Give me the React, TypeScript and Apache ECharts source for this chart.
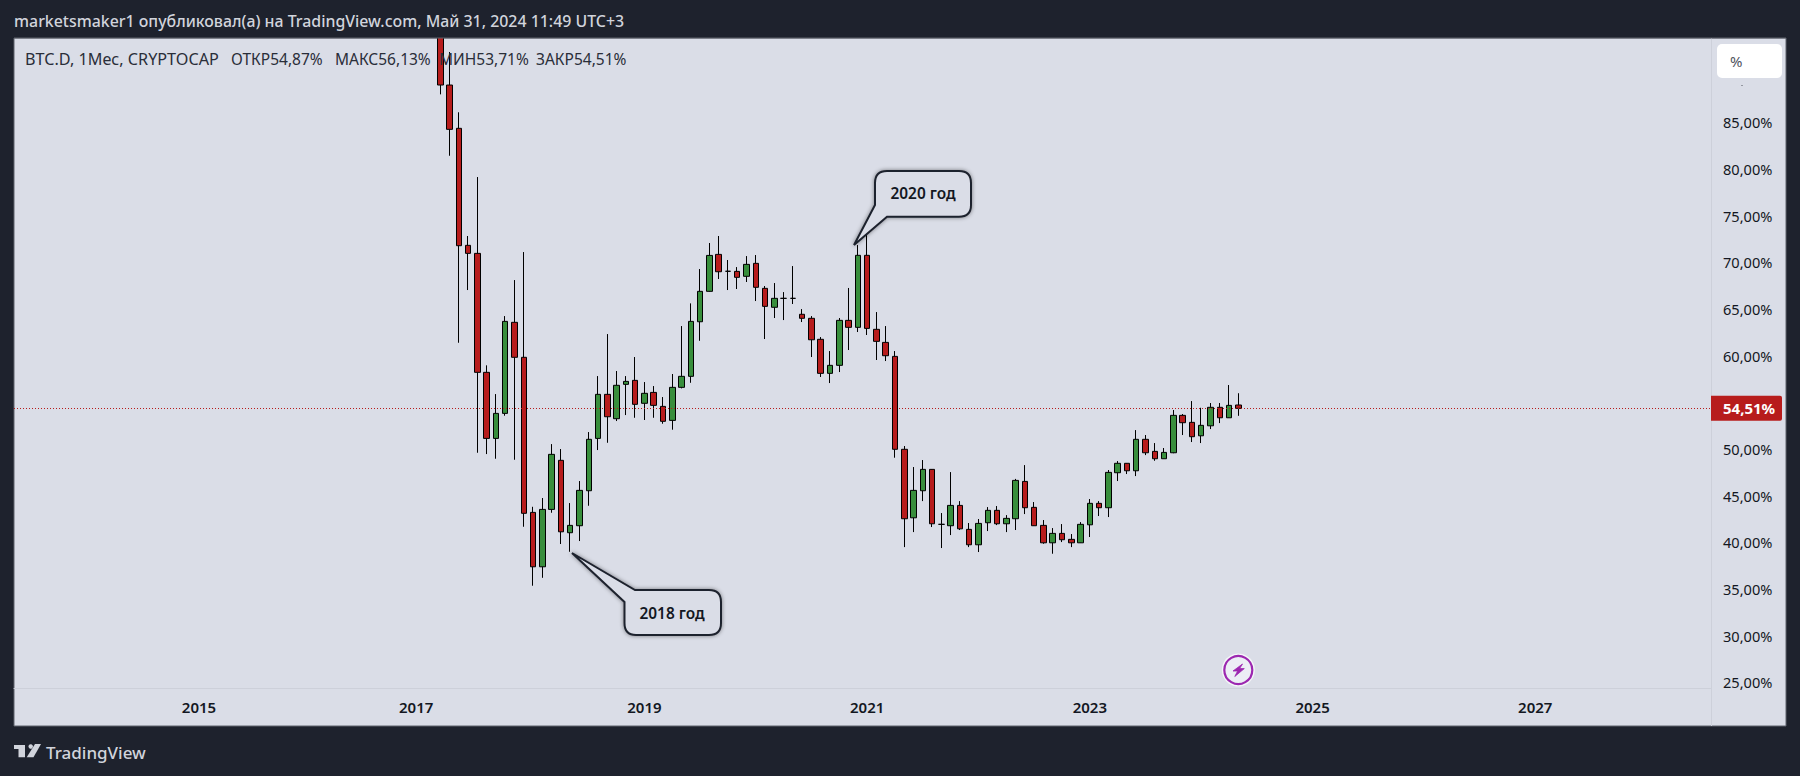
import React, { useEffect, useRef } from "react";
import * as echarts from "echarts";

const months = [
  "2017-03","2017-04","2017-05","2017-06","2017-07","2017-08","2017-09","2017-10","2017-11","2017-12",
  "2018-01","2018-02","2018-03","2018-04","2018-05","2018-06","2018-07","2018-08","2018-09","2018-10","2018-11","2018-12",
  "2019-01","2019-02","2019-03","2019-04","2019-05","2019-06","2019-07","2019-08","2019-09","2019-10","2019-11","2019-12",
  "2020-01","2020-02","2020-03","2020-04","2020-05","2020-06","2020-07","2020-08","2020-09","2020-10","2020-11","2020-12",
  "2021-01","2021-02","2021-03","2021-04","2021-05","2021-06","2021-07","2021-08","2021-09","2021-10","2021-11","2021-12",
  "2022-01","2022-02","2022-03","2022-04","2022-05","2022-06","2022-07","2022-08","2022-09","2022-10","2022-11","2022-12",
  "2023-01","2023-02","2023-03","2023-04","2023-05","2023-06","2023-07","2023-08","2023-09","2023-10","2023-11","2023-12",
  "2024-01","2024-02","2024-03","2024-04","2024-05",
];
const opens = [
  96,89.16,84.52,71.98,71.12,58.37,51.29,53.97,63.73,59.98,
  43.36,37.53,43.68,48.94,41.18,41.93,45.68,51.29,56.01,53.4,57.08,57.51,
  55.05,56.22,54.72,53.22,56.76,57.94,63.79,67.05,71.01,69.2,69.19,68.66,
  70.05,67.37,65.34,66.3,66.3,64.59,64.16,61.91,58.26,59.12,63.94,63.19,
  70.91,62.98,61.58,60.08,50.12,42.78,45.68,47.97,42.08,41.93,44.11,41.54,
  39.89,42.25,43.58,42.14,42.68,46.68,43.9,41.97,40.1,41.11,40.47,40.1,
  42.03,44.33,43.86,47.61,48.62,47.82,51.19,49.9,49.11,49.75,53.76,53.01,
  51.57,52.64,54.62,53.5,54.87,
];
const closes = [
  89.16,84.41,71.94,71.12,58.37,51.29,53.97,63.83,59.98,43.26,
  37.53,43.68,49.58,41.28,41.97,45.72,51.19,56.01,53.61,56.98,57.4,54.94,
  56.12,54.83,53.12,56.76,57.94,63.83,67.05,70.9,69.15,69.2,68.55,69.94,
  67.48,65.44,66.3,66.3,66.3,64.16,61.86,58.26,59.12,63.94,63.19,70.91,
  63.08,61.69,60.15,50.12,42.68,45.72,47.97,42.14,42.08,44.11,41.6,39.89,
  42.18,43.58,42.14,42.72,46.79,43.86,41.93,40.1,41.11,40.43,40.1,42.08,
  44.33,43.86,47.65,48.62,47.82,51.19,49.75,49.11,49.79,53.76,52.97,51.47,
  52.69,54.62,53.5,54.83,54.51,
];
const lows = [
  88.16,81.58,61.54,67.19,49.75,49.61,49.11,53.72,49.0,41.82,
  35.5,36.35,43.32,39.97,39.14,40.29,44.07,50.04,50.82,53.15,53.79,53.5,
  53.26,53.5,52.86,52.22,56.65,57.25,61.75,67.0,68.37,67.19,67.3,68.05,
  66.01,61.94,64.19,63.97,65.69,63.76,60.01,57.87,57.22,58.4,60.76,62.69,
  62.37,59.69,59.58,49.22,39.64,41.25,44.57,41.79,39.54,40.93,41.47,39.64,
  39.11,41.36,42.0,41.25,41.47,43.18,41.9,40.0,38.93,40.18,39.64,40.08,
  40.72,42.97,42.86,46.72,47.47,47.25,49.5,48.89,49.1,49.7,51.65,50.9,
  50.79,52.29,52.93,53.48,53.71,
];
const highs = [
  98,92.7,86.24,72.98,79.3,59.12,56.04,64.4,68.26,71.26,
  43.96,44.9,50.68,50.15,44.36,46.72,51.97,57.97,62.47,58.51,57.97,60.01,
  57.33,56.9,55.72,58.19,63.33,65.76,69.44,72.23,72.98,70.41,69.65,70.83,
  70.94,67.62,67.94,66.97,69.76,65.15,64.4,62.15,60.65,64.19,67.41,72.01,
  73.3,64.83,63.33,60.65,50.47,48.22,48.97,48.0,43.29,47.68,44.57,42.22,
  42.65,43.93,44.04,43.07,46.95,48.43,44.47,42.54,41.68,42.11,41.04,42.32,
  44.79,44.57,47.9,48.86,48.65,52.18,51.65,50.79,50.26,54.33,53.9,55.29,
  54.57,55.08,55.08,57.01,56.13,
];
const priceTicks = [25, 30, 35, 40, 45, 50, 60, 65, 70, 75, 80, 85];
const yearLabels = ["2015", "2017", "2019", "2021", "2023", "2025", "2027"];
const yearTicks = [0, 23.4, 48, 72, 96, 120, 144];
const lastPrice = 54.51;
const legendItems = ["BTC.D, 1Мес, CRYPTOCAP", "ОТКР54,87%", "МАКС56,13%", "МИН53,71%", "ЗАКР54,51%"];
const legendLefts = [25, 231, 335, 439, 536];
const legendSizes = [16.2, 15.5, 15.5, 15.5, 15.5];
const headerText = "marketsmaker1 опубликовал(а) на TradingView.com, Май 31, 2024 11:49 UTC+3";

const monthIndex = (m: string) => {
  const [y, mo] = m.split("-").map(Number);
  return (y - 2015) * 12 + mo - 1;
};
const comma = (v: number) => v.toFixed(2).replace(".", ",") + "%";

const FONT = "'Noto Sans', sans-serif";
const BG = "#1e222d";
const PANEL = "#dadde7";
const RED = "#b71c1c";
const GREEN = "#388e3c";

echarts.graphic.registerShape(
  "callout2018",
  echarts.graphic.extendPath(
    "M572 553 L635 590 L709 590 Q721 590 721 602 L721 623 Q721 635 709 635 L636 635 Q624.5 635 624.5 623 L624.5 602 Z",
    {}
  )
);
echarts.graphic.registerShape(
  "callout2020",
  echarts.graphic.extendPath(
    "M854 245 L875 205 L875 183 Q875 171 887 171 L959 171 Q971 171 971 183 L971 205 Q971 216.7 959 216.7 L887 216.7 Z",
    {}
  )
);

export default function App() {
  const ref = useRef<HTMLDivElement>(null);
  useEffect(() => {
    const chart = echarts.init(ref.current!, undefined, { renderer: "svg" });
    const candles = months.map((m, i) => [monthIndex(m), opens[i], closes[i], lows[i], highs[i]]);
    const calloutStyle = {
      fill: PANEL,
      stroke: "#1e222d",
      lineWidth: 2,
      shadowBlur: 4,
      shadowColor: "rgba(0,0,0,0.45)",
    };
    const calloutText = (text: string, x: number, y: number) => ({
      type: "text",
      z: 11,
      x,
      y,
      style: { text, fill: "#131722", font: `600 15.4px ${FONT}`, align: "center", verticalAlign: "middle" },
    });
    chart.setOption({
      animation: false,
      backgroundColor: BG,
      grid: { left: 14, top: 38, width: 1697, height: 650, containLabel: false },
      xAxis: {
        type: "value",
        min: -19.94,
        max: 162.94,
        splitLine: { show: false },
        axisTick: { show: false },
        axisLine: { show: true, onZero: false, lineStyle: { color: "#cdd0da", width: 1 } },
        axisLabel: {
          customValues: yearTicks,
          margin: 11,
          color: "#131722",
          fontFamily: FONT,
          fontSize: 15,
          fontWeight: 600,
          formatter: (v: number) => yearLabels[yearTicks.indexOf(v)] ?? "",
        },
      },
      yAxis: {
        type: "value",
        position: "right",
        min: 24.54,
        max: 94.2,
        splitLine: { show: false },
        axisTick: { show: false },
        axisLine: { show: false },
        axisLabel: {
          customValues: priceTicks,
          margin: 12,
          verticalAlign: "bottom",
          lineHeight: 3,
          color: "#131722",
          fontFamily: FONT,
          fontSize: 14.6,
          formatter: (v: number) => comma(v),
        },
      },
      series: [
        {
          type: "candlestick",
          data: candles,
          encode: { x: 0, y: [1, 2, 3, 4] },
          barWidth: 6,
          clip: true,
          itemStyle: {
            color: GREEN,
            color0: RED,
            borderColor: "#000",
            borderColor0: "#000",
            borderColorDoji: "#000",
            borderWidth: 1,
          },
          markLine: {
            silent: true,
            symbol: "none",
            animation: false,
            lineStyle: { color: RED, type: [1, 2], width: 1 },
            data: [
              {
                yAxis: lastPrice,
                label: {
                  show: true,
                  position: "end",
                  distance: 0,
                  formatter: comma(lastPrice),
                  color: "#fff",
                  fontFamily: FONT,
                  fontWeight: 700,
                  fontSize: 15,
                  backgroundColor: RED,
                  width: 59,
                  height: 25,
                  lineHeight: 25,
                  padding: [0, 0, 0, 12],
                  borderRadius: [0, 2, 2, 0],
                },
              },
            ],
          },
        },
      ],
      graphic: {
        elements: [
          {
            type: "rect",
            z: -1,
            shape: { x: 14, y: 38, width: 1772, height: 688 },
            style: { fill: PANEL, stroke: "#5f626d", lineWidth: 1 },
          },
          // header strip: keeps the off-scale candle inside the panel, as in the reference
          { type: "rect", z: 9, shape: { x: 0, y: 0, width: 1800, height: 38 }, style: { fill: BG } },
          { type: "line", z: 9, shape: { x1: 14, y1: 38, x2: 1786, y2: 38 }, style: { stroke: "#5f626d", lineWidth: 1 } },
          {
            type: "line",
            z: 1,
            shape: { x1: 1711.5, y1: 38, x2: 1711.5, y2: 726 },
            style: { stroke: "#cdd0da", lineWidth: 1 },
          },
          {
            type: "text",
            z: 11,
            x: 14,
            y: 21,
            style: { text: headerText, fill: "#d1d4dc", font: `500 15.9px ${FONT}`, verticalAlign: "middle" },
          },
          ...legendItems.map((text, i) => ({
            type: "text",
            z: 11,
            x: legendLefts[i],
            y: 59,
            style: { text, fill: "#2a2e39", font: `${legendSizes[i]}px ${FONT}`, verticalAlign: "middle" },
          })),
          { type: "callout2018", z: 10, x: 0, y: 0, style: calloutStyle },
          { type: "callout2020", z: 10, x: 0, y: 0, style: calloutStyle },
          calloutText("2018 год", 672, 613),
          calloutText("2020 год", 923, 193),
          {
            type: "rect",
            z: 10,
            shape: { x: 1717, y: 44, width: 65, height: 34, r: 5 },
            style: { fill: "#fff" },
          },
          {
            type: "text",
            z: 11,
            x: 1730,
            y: 61,
            style: { text: "%", fill: "#50535e", font: `15px ${FONT}`, verticalAlign: "middle" },
          },
          { type: "rect", z: 10, shape: { x: 1741, y: 85, width: 2, height: 1 }, style: { fill: "#9598a1" } },
          { type: "circle", z: 10, shape: { cx: 1238.3, cy: 670, r: 16.5 }, style: { fill: "#f4f5f9" } },
          {
            type: "circle",
            z: 11,
            shape: { cx: 1238.3, cy: 670, r: 14 },
            style: { fill: "#eceef5", stroke: "#9c27b0", lineWidth: 2.2 },
          },
          {
            type: "polygon",
            z: 12,
            shape: {
              points: [
                [1242.5, 664],
                [1233, 671],
                [1237.6, 671],
                [1234.8, 676.5],
                [1244.3, 668.6],
                [1239.6, 668.6],
              ],
            },
            style: { fill: "#9c27b0", stroke: "#9c27b0", lineWidth: 0.8 },
          },
          // TradingView logo
          {
            type: "polygon",
            z: 5,
            shape: {
              points: [
                [14, 745],
                [25, 745],
                [25, 757.3],
                [18.5, 757.3],
                [18.5, 749],
                [14, 749],
              ],
            },
            style: { fill: "#d1d4dc" },
          },
          { type: "circle", z: 5, shape: { cx: 30.7, cy: 746.5, r: 2.2 }, style: { fill: "#d1d4dc" } },
          {
            type: "polygon",
            z: 5,
            shape: {
              points: [
                [35, 744],
                [41, 744],
                [33.5, 757.3],
                [26.7, 757.3],
              ],
            },
            style: { fill: "#d1d4dc" },
          },
          {
            type: "text",
            z: 11,
            x: 46,
            y: 752,
            style: { text: "TradingView", fill: "#d1d4dc", font: `500 17px ${FONT}`, verticalAlign: "middle" },
          },
        ],
      },
    });
    return () => chart.dispose();
  }, []);
  return <div ref={ref} style={{ position: "fixed", left: 0, top: 0, width: 1800, height: 776 }} />;
}
